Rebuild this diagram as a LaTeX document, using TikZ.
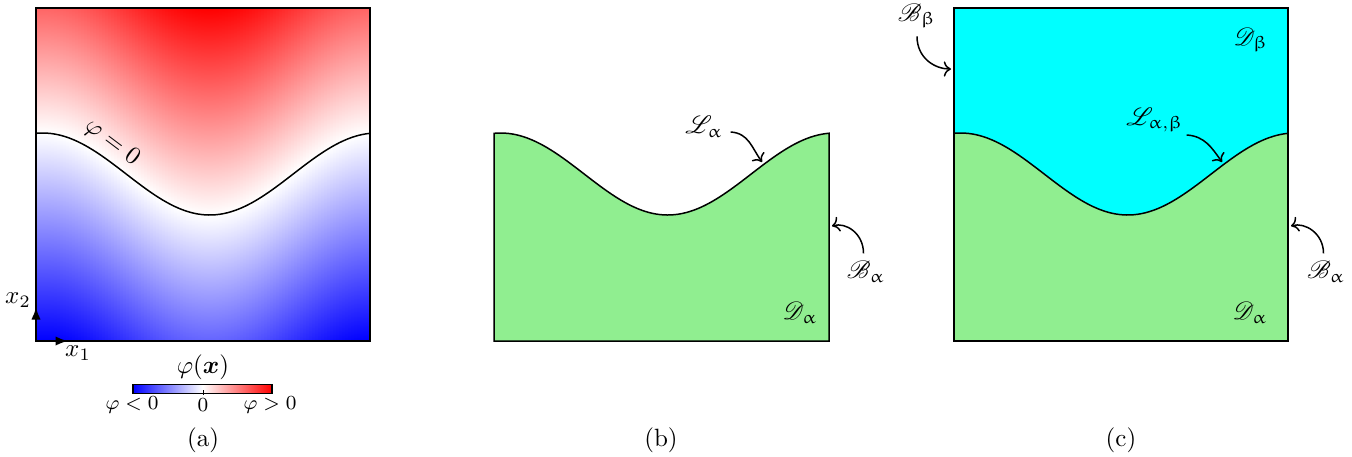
\documentclass[tikz,border=0pt]{standalone}
\usepackage{amsmath,amssymb}
\usepackage{mathrsfs}
\usepackage{upgreek}
\usetikzlibrary{arrows.meta}

\definecolor{domalpha}{RGB}{144,238,144}
\definecolor{dombeta}{RGB}{0,255,255}

\begin{document}
\begin{tikzpicture}[x=0.4pt, y=-0.4pt, >=To,
    frame/.style={draw=black, semithick},
    iface/.style={semithick},
    callout/.style={->, semithick},
    lbl/.style={inner sep=1pt}]

    \useasboundingbox (0,0) rectangle (1352,456);

    % interface height (pixel units, local x from the left edge of a panel)
    \def\iface#1{174-41*cos(1.077844*(#1)-7.2)}

    % ── (a) level-set field ──────────────────────────────────────────────────
    \begin{scope}[shift={(36,0)}]
        \begin{scope}
            \clip (0,8) rectangle (334,341);
            \foreach \i in {0,...,111} {
                \pgfmathsetmacro{\xa}{3*\i}
                \pgfmathsetmacro{\hh}{\iface{\xa+1.5}}
                \pgfmathsetmacro{\ttop}{min(100,(\hh-8)/2.07)}
                \pgfmathsetmacro{\tbot}{min(100,(341-\hh)/2.07)}
                \shade[top color=red!\ttop!white, bottom color=white]
                    (\xa,8) rectangle (\xa+3.6,\hh);
                \shade[top color=white, bottom color=blue!\tbot!white]
                    (\xa,\hh) rectangle (\xa+3.6,341);
            }
        \end{scope}
        \draw[iface] plot[domain=0:334, samples=90] (\x, {\iface{\x}});
        \draw[frame] (0,8) rectangle (334,341);
        \node[rotate=-37] (phizero) at (76,143) {$\varphi=0$};

        % axes
        \coordinate (O)  at (0,341);
        \coordinate (e1) at (32,341);
        \coordinate (e2) at (0,307);
        \draw[-{Latex[length=5pt]}, thick] (O) -- (e1);
        \draw[-{Latex[length=5pt]}, thick] (O) -- (e2);
        \node (xone) at (42,353) {$x_1$};
        \node (xtwo) at (-18,300) {$x_2$};
    \end{scope}

    % colour bar
    \shade[left color=blue, right color=red, middle color=white]
        (133,384) rectangle (272,393);
    \draw[thin] (133,384) rectangle (272,393);
    \draw[thick] (133,384) -- (133,394);
    \draw[thick] (272,384) -- (272,394);
    \draw[thin] (203,390) -- (203,395);
    \node (cbtitle) at (203,367) {$\varphi(\boldsymbol{x})$};
    \node[font=\footnotesize] (cbneg)  at (132,405) {$\varphi<0$};
    \node[font=\footnotesize] (cbzero) at (203,405) {$0$};
    \node[font=\footnotesize] (cbpos)  at (270,405) {$\varphi>0$};
    \node (capa) at (203,440) {(a)};

    % ── (b) single domain ────────────────────────────────────────────────────
    \begin{scope}[shift={(494,0)}]
        \filldraw[fill=domalpha, iface] (0,341) -- plot[domain=0:335, samples=90] (\x, {\iface{\x}})
            -- (335,341) -- cycle;
    \end{scope}
    \node[lbl] (La) at (704,127) {$\mathscr{L}_{\upalpha}$};
    \coordinate (La-tip) at (762,162);
    \draw[callout] ([xshift=2pt, yshift=-2pt]La.east) .. controls +(18,1) and +(-10,-14) .. (La-tip);
    \node[lbl] (Ba) at (866,272) {$\mathscr{B}_{\upalpha}$};
    \coordinate (Ba-tip) at (832,226);
    \draw[callout] ([xshift=-1pt, yshift=2pt]Ba.north) .. controls +(0,-20) and +(14,-4) .. (Ba-tip);
    \node[lbl] (Da) at (800,313) {$\mathscr{D}_{\upalpha}$};
    \node (capb) at (661,440) {(b)};

    % ── (c) two domains ──────────────────────────────────────────────────────
    \begin{scope}[shift={(954,0)}]
        \fill[dombeta] (0,8) rectangle (334,341);
        \fill[domalpha] (0,341) -- plot[domain=0:334, samples=90] (\x, {\iface{\x}})
            -- (334,341) -- cycle;
        \draw[iface] plot[domain=0:334, samples=90] (\x, {\iface{\x}});
        \draw[frame] (0,8) rectangle (334,341);
    \end{scope}
    \node[lbl] (Bb) at (917,16) {$\mathscr{B}_{\upbeta}$};
    \coordinate (Bb-tip) at (951,69);
    \draw[callout] ([yshift=-2pt]Bb.south) .. controls +(0,22) and +(-16,0) .. (Bb-tip);
    \node[lbl] (Db) at (1251,40) {$\mathscr{D}_{\upbeta}$};
    \node[lbl] (Lab) at (1155,120) {$\mathscr{L}_{\upalpha,\upbeta}$};
    \coordinate (Lab-tip) at (1222,162);
    \draw[callout] ([yshift=-6pt]Lab.east) .. controls +(18,1) and +(-10,-14) .. (Lab-tip);
    \node[lbl] (Ba2) at (1326,272) {$\mathscr{B}_{\upalpha}$};
    \coordinate (Ba2-tip) at (1291,226);
    \draw[callout] ([xshift=-1pt, yshift=2pt]Ba2.north) .. controls +(0,-20) and +(14,-4) .. (Ba2-tip);
    \node[lbl] (Da2) at (1250,313) {$\mathscr{D}_{\upalpha}$};
    \node (capc) at (1121,440) {(c)};

\end{tikzpicture}
\end{document}
